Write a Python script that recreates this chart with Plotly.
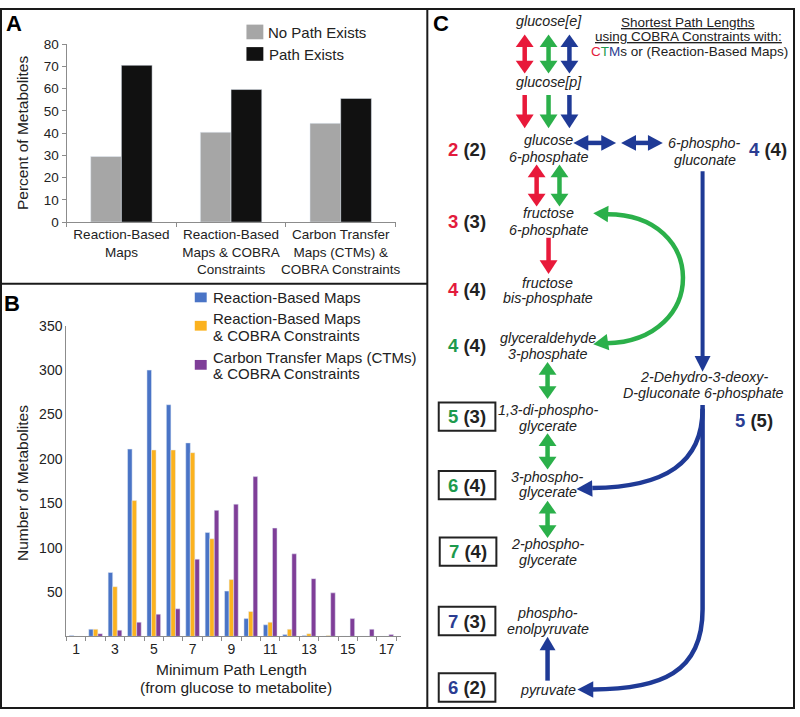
import plotly.graph_objects as go

W, H = 800, 717
FONT = "Liberation Sans, Arial, sans-serif"

# ---------------- Panel A data ----------------
a_categories = ["Reaction-Based<br>Maps",
                "Reaction-Based<br>Maps & COBRA<br>Constraints",
                "Carbon Transfer<br>Maps (CTMs) &<br>COBRA Constraints"]
a_no_path = [29.5, 40.4, 44.4]
a_path = [70.5, 59.6, 55.6]
a_yticks = [0, 10, 20, 30, 40, 50, 60, 70, 80]

# ---------------- Panel B data ----------------
b_lengths = list(range(1, 18))
b_reaction = [1, 8, 72, 211, 300, 261, 218, 117, 51, 20, 13, 2, 1, 0, 0, 0, 0]
b_reaction_cobra = [0, 8, 56, 153, 210, 210, 207, 110, 64, 28, 16, 8, 3, 1, 0, 0, 0]
b_ctm_cobra = [0, 3, 7, 16, 25, 31, 87, 142, 149, 180, 122, 93, 65, 49, 20, 8, 2]
b_xticks = [1, 3, 5, 7, 9, 11, 13, 15, 17]
b_yticks = [50, 100, 150, 200, 250, 300, 350]

GRAY, BLACK = "#a6a6a6", "#111111"
BLUE_B, ORANGE_B, PURPLE_B = "#4a74c6", "#fbb21f", "#7f3e98"
RED, GREEN, NAVY = "#e8193a", "#2bb04a", "#1f3a96"
RED_T, GREEN_T, NAVY_T = "#e31b3c", "#1d9a4d", "#2b3d92"


def fx(x):
    return x / W


def fy(y):
    return 1 - y / H


def P(x, y):
    return f"{fx(x):.5f},{fy(y):.5f}"


fig = go.Figure()

# Panel A bars
fig.add_trace(go.Bar(x=a_categories, y=a_no_path, name="No Path Exists", marker_color=GRAY,
                     width=0.28, offset=-0.28, xaxis="x", yaxis="y", showlegend=False))
fig.add_trace(go.Bar(x=a_categories, y=a_path, name="Path Exists", marker_color=BLACK,
                     width=0.28, offset=0.0, xaxis="x", yaxis="y", showlegend=False))

# Panel B bars
bw = 0.235
fig.add_trace(go.Bar(x=b_lengths, y=b_reaction, name="Reaction-Based Maps", marker_color=BLUE_B,
                     width=bw, offset=-1.5 * bw, xaxis="x2", yaxis="y2", showlegend=False))
fig.add_trace(go.Bar(x=b_lengths, y=b_reaction_cobra, name="Reaction-Based Maps & COBRA Constraints",
                     marker_color=ORANGE_B, width=bw, offset=-0.5 * bw, xaxis="x2", yaxis="y2",
                     showlegend=False))
fig.add_trace(go.Bar(x=b_lengths, y=b_ctm_cobra, name="Carbon Transfer Maps (CTMs) & COBRA Constraints",
                     marker_color=PURPLE_B, width=bw, offset=0.5 * bw, xaxis="x2", yaxis="y2",
                     showlegend=False))

axis_line = dict(showline=True, linecolor="#8c8c8c", linewidth=1, showgrid=False, zeroline=False)

fig.update_layout(
    width=W, height=H, margin=dict(l=0, r=0, t=0, b=0),
    paper_bgcolor="white", plot_bgcolor="rgba(0,0,0,0)",
    font=dict(family=FONT, color="#222"),
    barmode="overlay",
    xaxis=dict(domain=[fx(67), fx(398)], anchor="y", type="category",
               tickson="boundaries", ticks="outside", ticklen=4, tickcolor="#8c8c8c",
               tickangle=0, tickfont=dict(size=13.5, color="#222"), fixedrange=True, **axis_line),
    yaxis=dict(domain=[fy(219), fy(37)], anchor="x", range=[0, 80], tickvals=a_yticks,
               ticks="outside", ticklen=4, tickcolor="#8c8c8c",
               tickfont=dict(size=13.5, color="#222"), **axis_line),
    xaxis2=dict(domain=[fx(66.7), fx(403.3)], anchor="y2", range=[0.49, 17.73],
                tickvals=b_xticks, ticks="", tickangle=0, tickfont=dict(size=14, color="#222"),
                minor=dict(tick0=0.5, dtick=1, ticks="outside", ticklen=4, tickcolor="#8c8c8c"),
                **axis_line),
    yaxis2=dict(domain=[fy(642.7), fy(325)], anchor="x2", range=[0, 350], tickvals=b_yticks,
                ticks="", tickfont=dict(size=14, color="#222"), **axis_line),
)

shapes = []
annots = []


def text(x, y, t, size=13, color="#222", xanchor="center", **kw):
    annots.append(dict(x=fx(x), y=fy(y), xref="paper", yref="paper", text=t, showarrow=False,
                       xanchor=xanchor, yanchor="middle", font=dict(size=size, color=color, family=FONT),
                       **kw))


def rect(x0, y0, x1, y1, fill=None, line_color=None, lw=0):
    s = dict(type="rect", xref="paper", yref="paper", x0=fx(x0), x1=fx(x1), y0=fy(y0), y1=fy(y1),
             line=dict(width=lw, color=line_color or "rgba(0,0,0,0)"))
    if fill:
        s["fillcolor"] = fill
    shapes.append(s)


def line(x0, y0, x1, y1, color, lw):
    shapes.append(dict(type="line", xref="paper", yref="paper", x0=fx(x0), x1=fx(x1),
                       y0=fy(y0), y1=fy(y1), line=dict(color=color, width=lw)))


def head(tx, ty, dx, dy, color, L=13, Wd=17):
    n = (dx * dx + dy * dy) ** 0.5
    ux, uy = dx / n, dy / n
    bx, by = tx - ux * L, ty - uy * L
    nx, ny = -uy, ux
    p1 = (bx + nx * Wd / 2, by + ny * Wd / 2)
    p2 = (bx - nx * Wd / 2, by - ny * Wd / 2)
    shapes.append(dict(type="path", xref="paper", yref="paper",
                       path=f"M{P(tx, ty)} L{P(*p1)} L{P(*p2)} Z",
                       fillcolor=color, line=dict(width=0)))


def arrow(x0, y0, x1, y1, color, both=False, lw=4.5, L=13, Wd=17):
    dx, dy = x1 - x0, y1 - y0
    n = (dx * dx + dy * dy) ** 0.5
    ux, uy = dx / n, dy / n
    sx0, sy0 = (x0 + ux * (L - 2), y0 + uy * (L - 2)) if both else (x0, y0)
    sx1, sy1 = x1 - ux * (L - 2), y1 - uy * (L - 2)
    line(sx0, sy0, sx1, sy1, color, lw)
    head(x1, y1, dx, dy, color, L, Wd)
    if both:
        head(x0, y0, -dx, -dy, color, L, Wd)


def curve(path_pts, color, lw=4.5):
    (x0, y0), rest = path_pts[0], path_pts[1:]
    d = f"M{P(x0, y0)}"
    for seg in rest:
        if seg[0] == "L":
            d += f" L{P(*seg[1])}"
        else:
            d += f" C{P(*seg[1])} {P(*seg[2])} {P(*seg[3])}"
    shapes.append(dict(type="path", xref="paper", yref="paper", path=d,
                       line=dict(color=color, width=lw), fillcolor="rgba(0,0,0,0)"))


# ---------------- Panel borders ----------------
rect(1, 1, 799, 716, line_color="#1a1a1a", lw=2)
line(430, 0, 430, 717, "#1a1a1a", 2)
line(0, 282, 430, 282, "#1a1a1a", 2)

# ---------------- Panel A texts ----------------
text(14, 16, "<b>A</b>", size=22, color="#000")
text(22, 128, "Percent of Metabolites", size=15.5, textangle=-90)
rect(248, 17, 265, 32, fill=GRAY)
rect(248, 40, 265, 54, fill=BLACK)
text(268, 25, "No Path Exists", size=15, xanchor="left")
text(269, 48, "Path Exists", size=15, xanchor="left")

# ---------------- Panel B texts ----------------
text(12, 302, "<b>B</b>", size=22, color="#000")
text(22, 486, "Number of Metabolites", size=15.5, textangle=-90)
text(233, 677, "Minimum Path Length", size=15.5)
text(237, 695, "(from glucose to metabolite)", size=15.5)
rect(196, 291, 208, 301, fill=BLUE_B)
rect(196, 320, 208, 330, fill=ORANGE_B)
rect(196, 360, 208, 370, fill=PURPLE_B)
text(212, 296, "Reaction-Based Maps", size=15, xanchor="left")
text(212, 318, "Reaction-Based Maps", size=15, xanchor="left")
text(212, 334.5, "& COBRA Constraints", size=15, xanchor="left")
text(212, 357, "Carbon Transfer Maps (CTMs)", size=15, xanchor="left")
text(212, 373.5, "& COBRA Constraints", size=15, xanchor="left")

# ---------------- Panel C ----------------
text(444, 16, "<b>C</b>", size=22, color="#000")
text(692, 15, "<u>Shortest Path Lengths</u>", size=13.5)
text(693, 29, "<u>using COBRA Constraints with:</u>", size=13.5)
text(694, 44, f"<span style='color:{RED_T}'>C</span><span style='color:{GREEN_T}'>T</span>"
              f"<span style='color:{NAVY_T}'>M</span>s or (Reaction-Based Maps)", size=13.5)

# metabolite names
mets = [
    (552, [(13, "glucose[e]")]),
    (552, [(76, "glucose[p]")]),
    (552, [(135, "glucose"), (152, "6-phosphate")]),
    (709, [(138, "6-phospho-"), (155, "gluconate")]),
    (552, [(210, "fructose"), (227, "6-phosphate")]),
    (551, [(281, "fructose"), (297, "bis-phosphate")]),
    (551, [(338, "glyceraldehyde"), (354, "3-phosphate")]),
    (708, [(377, "2-Dehydro-3-deoxy-"), (394, "D-gluconate 6-phosphate")]),
    (551, [(411.5, "1,3-di-phospho-"), (427.5, "glycerate")]),
    (551, [(479.5, "3-phospho-"), (495.5, "glycerate")]),
    (551, [(548.5, "2-phospho-"), (564.5, "glycerate")]),
    (551, [(619, "phospho-"), (635, "enolpyruvate")]),
    (551, [(698, "pyruvate")]),
]
for x, lines_ in mets:
    for y, t in lines_:
        text(x, y, f"<i>{t}</i>", size=14.3, color="#222")

# path length labels
labels = [
    (470, 145, "2", "(2)", RED_T, False),
    (773, 145, "4", "(4)", NAVY_T, False),
    (470, 218, "3", "(3)", RED_T, False),
    (470, 288, "4", "(4)", RED_T, False),
    (470, 345, "4", "(4)", GREEN_T, False),
    (470, 418, "5", "(3)", GREEN_T, True),
    (759, 422, "5", "(5)", NAVY_T, False),
    (470, 488, "6", "(4)", GREEN_T, True),
    (471, 556, "7", "(4)", GREEN_T, True),
    (470, 627, "7", "(3)", NAVY_T, True),
    (470, 695, "6", "(2)", NAVY_T, True),
]
for x, y, n, p, c, boxed in labels:
    text(x, y, f"<b><span style='color:{c}'>{n}</span> {p}</b>", size=18.5, color="#222")
    if boxed:
        rect(x - 28.5, y - 14.5, x + 28.5, y + 14.5, line_color="#222", lw=2)

# straight arrows
for x, c in [(528, RED), (552, GREEN), (573, NAVY)]:
    arrow(x, 27, x, 67, c, both=True, L=13, Wd=18)
    arrow(x, 89, x, 123, c, L=14, Wd=18)
arrow(577, 138, 620, 138, NAVY, both=True, L=15, Wd=16)
arrow(625, 138, 667, 138, NAVY, both=True, L=15, Wd=16)
arrow(540, 160, 540, 203, RED, both=True, L=13, Wd=18)
arrow(563, 160, 563, 203, GREEN, both=True, L=13, Wd=18)
arrow(552, 235, 552, 272, RED, L=14, Wd=18)
arrow(551, 362, 551, 400, GREEN, both=True, L=13, Wd=18)
arrow(551, 435, 551, 472, GREEN, both=True, L=13, Wd=18)
arrow(551, 504, 551, 542, GREEN, both=True, L=13, Wd=18)
arrow(707, 167, 707, 372, NAVY, lw=4, L=16, Wd=16)
arrow(551, 688, 551, 643, NAVY, L=14, Wd=16)

# green curved double arrow (fructose 6-P <-> glyceraldehyde 3-P)
curve([(610, 211), ("C", (712, 210), (714, 340), (610, 343))], GREEN, lw=4.5)
head(597, 210, -1, -0.05, GREEN, L=15, Wd=17)
head(597, 344, -1, 0.15, GREEN, L=15, Wd=17)

# blue curves to 3-phosphoglycerate and pyruvate
curve([(707, 406), ("L", (707, 615)), ("C", (707, 680), (665, 697), (596, 697))], NAVY, lw=4.5)
head(581, 697, -1, 0, NAVY, L=16, Wd=17)
curve([(707, 410), ("C", (707, 465), (670, 490), (596, 491))], NAVY, lw=4.5)
head(580, 492, -1, 0.03, NAVY, L=16, Wd=17)

fig.update_layout(shapes=shapes, annotations=annots)
fig.write_html("out.html", config={"displayModeBar": False},
               post_script="document.body.style.margin='0';document.body.style.overflow='hidden';")
